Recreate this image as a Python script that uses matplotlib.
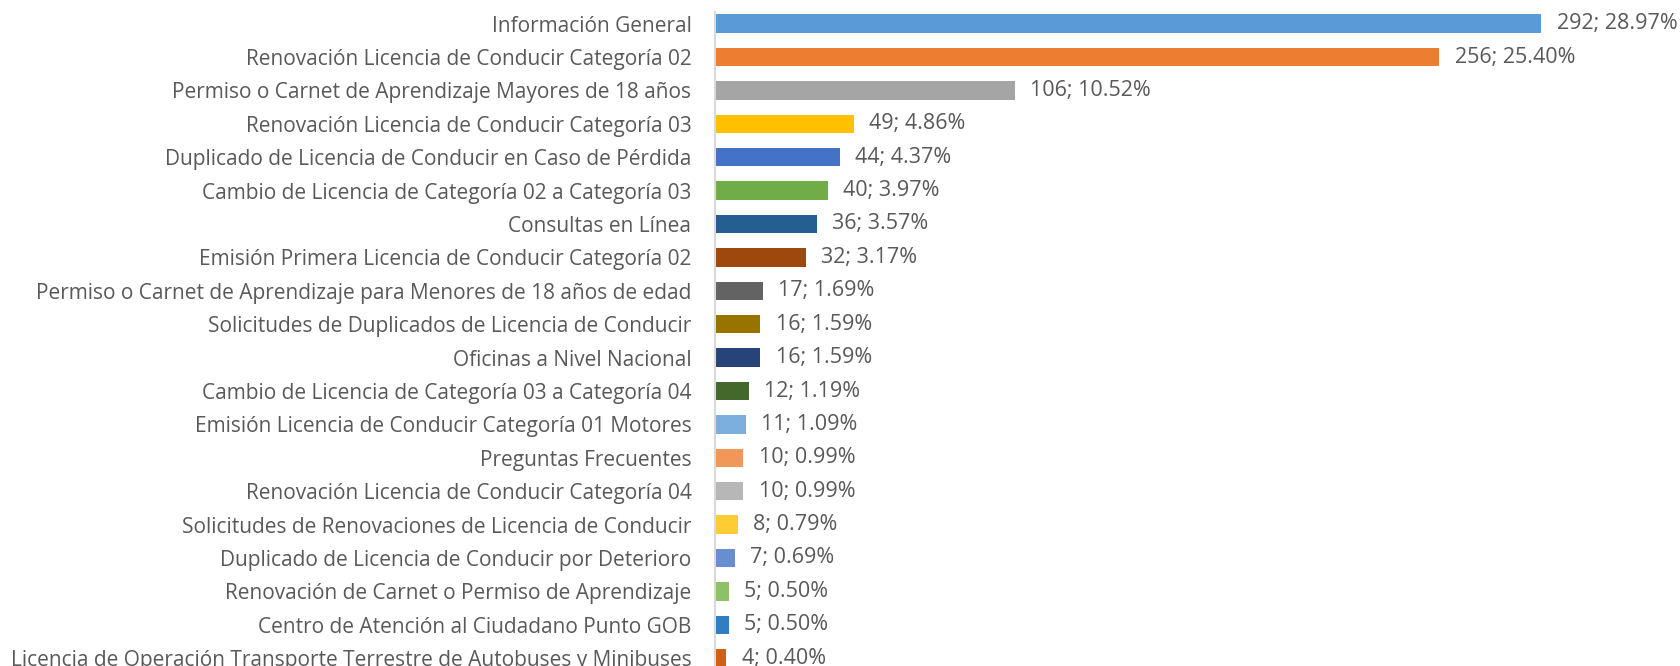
import matplotlib
matplotlib.use("Agg")
import matplotlib.pyplot as plt

categories = [
    "Información General",
    "Renovación Licencia de Conducir Categoría 02",
    "Permiso o Carnet de Aprendizaje Mayores de 18 años",
    "Renovación Licencia de Conducir Categoría 03",
    "Duplicado de Licencia de Conducir en Caso de Pérdida",
    "Cambio de Licencia de Categoría 02 a Categoría 03",
    "Consultas en Línea",
    "Emisión Primera Licencia de Conducir Categoría 02",
    "Permiso o Carnet de Aprendizaje para Menores de 18 años de edad",
    "Solicitudes de Duplicados de Licencia de Conducir",
    "Oficinas a Nivel Nacional",
    "Cambio de Licencia de Categoría 03 a Categoría 04",
    "Emisión Licencia de Conducir Categoría 01 Motores",
    "Preguntas Frecuentes",
    "Renovación Licencia de Conducir Categoría 04",
    "Solicitudes de Renovaciones de Licencia de Conducir",
    "Duplicado de Licencia de Conducir por Deterioro",
    "Renovación de Carnet o Permiso de Aprendizaje",
    "Centro de Atención al Ciudadano Punto GOB",
    "Licencia de Operación Transporte Terrestre de Autobuses y Minibuses",
]
counts = [292, 256, 106, 49, 44, 40, 36, 32, 17, 16, 16, 12, 11, 10, 10, 8, 7, 5, 5, 4]
percents = ["28.97%", "25.40%", "10.52%", "4.86%", "4.37%", "3.97%", "3.57%", "3.17%",
            "1.69%", "1.59%", "1.59%", "1.19%", "1.09%", "0.99%", "0.99%", "0.79%",
            "0.69%", "0.50%", "0.50%", "0.40%"]
colors = ["#5B9BD5", "#ED7D31", "#A5A5A5", "#FFC000", "#4472C4", "#70AD47",
          "#255E91", "#9E480E", "#636363", "#997300", "#264478", "#43682B",
          "#7CAFDD", "#F1975A", "#B7B7B7", "#FFCD33", "#698ED0", "#8CC168",
          "#327DC2", "#D26012"]

text_color = "#595959"
plt.rcParams['font.family'] = ['Open Sans', 'DejaVu Sans']

W, H = 1680, 666
fig = plt.figure(figsize=(W / 100, H / 100), dpi=100)
ax_left = 715 / W
ax_top = 12 / H
ax = fig.add_axes([ax_left, 0, 1 - ax_left, 1 - ax_top])

y = list(range(len(categories)))
ax.barh(y, counts, height=0.55, color=colors)

for yi, c, p in zip(y, counts, percents):
    ax.annotate(f"{c}; {p}", (c, yi), xytext=(11, 0), textcoords="offset points",
                va="center", ha="left", fontsize=15.5, color=text_color)

ax.set_yticks(y)
ax.set_yticklabels(categories, fontsize=15, color=text_color)
ax.tick_params(axis="y", length=0, pad=17)
ax.set_xticks([])
ax.set_xlim(0, 341)
# first bar center at ~23.6 px from top, ~33.4 px per row
ax.set_ylim((H - 23.6) / 33.4, (12 - 23.6) / 33.4)

for s in ["top", "right", "bottom"]:
    ax.spines[s].set_visible(False)
ax.spines["left"].set_color("#D9D9D9")
ax.spines["left"].set_linewidth(1.5)

fig.savefig("out.png", dpi=100)
